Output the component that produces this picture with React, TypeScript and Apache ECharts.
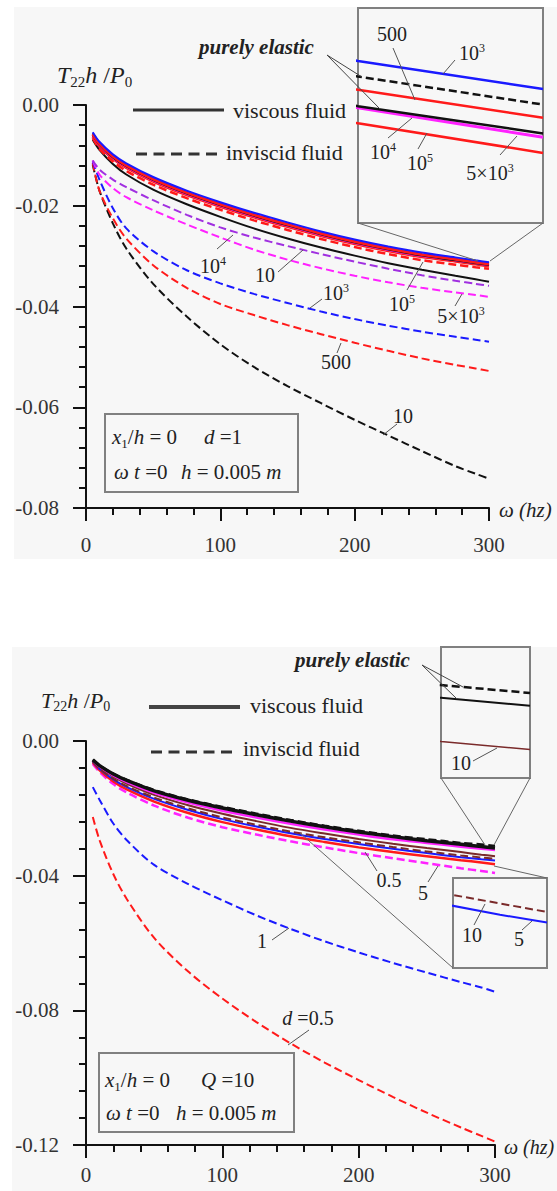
import React, { useEffect, useRef } from "react";
import * as echarts from "echarts";

const FONT = "Liberation Serif, Times New Roman, serif";

// frequency samples (hz)
const omega = [5, 10, 20, 30, 50, 75, 100, 125, 150, 175, 200, 225, 250, 275, 290, 300];

// ---------- Top panel: d = 1, curves labelled by Q ----------
const topInvQ10 = [-0.0118, -0.017, -0.0235, -0.0285, -0.0355, -0.042, -0.0475, -0.052, -0.0558, -0.0592, -0.0625, -0.0656, -0.0687, -0.0717, -0.0732, -0.0742];
const topInvQ500 = [-0.0115, -0.017, -0.0225, -0.0265, -0.0318, -0.0363, -0.0395, -0.0417, -0.0437, -0.0455, -0.0472, -0.0488, -0.0503, -0.0516, -0.0523, -0.0528];
const topInvQ1e3 = [-0.0112, -0.0148, -0.0205, -0.0245, -0.029, -0.0328, -0.0354, -0.0375, -0.0393, -0.041, -0.0425, -0.0438, -0.045, -0.046, -0.0466, -0.047];
const topInvQ5e3 = [-0.011, -0.0138, -0.0165, -0.0183, -0.0209, -0.0237, -0.0263, -0.0287, -0.0307, -0.0324, -0.0339, -0.0352, -0.0363, -0.0372, -0.0377, -0.0381];
const topInvQ1e4 = [-0.011, -0.0128, -0.0148, -0.0163, -0.0189, -0.0218, -0.0243, -0.0263, -0.028, -0.0296, -0.0311, -0.0325, -0.0338, -0.0349, -0.0355, -0.0359];
const topInvQ1e5 = [-0.0066, -0.0087, -0.0112, -0.0131, -0.0158, -0.0185, -0.0208, -0.0229, -0.0248, -0.0266, -0.0282, -0.0296, -0.0308, -0.0317, -0.0322, -0.0325];
const topInvElastic = [-0.0056, -0.0075, -0.01, -0.0118, -0.0145, -0.0172, -0.0195, -0.0216, -0.0235, -0.0253, -0.0269, -0.0283, -0.0295, -0.03045, -0.03104, -0.0314];
const topVisQ10 = [-0.0069, -0.0089, -0.0117, -0.0138, -0.0168, -0.0197, -0.0222, -0.0245, -0.0265, -0.0283, -0.0299, -0.0314, -0.0327, -0.0339, -0.0346, -0.0351];
const topVisQ500 = [-0.0058, -0.0077, -0.0102, -0.012, -0.0147, -0.0174, -0.0197, -0.0218, -0.0237, -0.0255, -0.0271, -0.0285, -0.0297, -0.03062, -0.03121, -0.03157];
const topVisQ1e3 = [-0.0054, -0.0073, -0.0098, -0.0116, -0.0143, -0.017, -0.0193, -0.0214, -0.0233, -0.0251, -0.0267, -0.0281, -0.0293, -0.03025, -0.03084, -0.0312];
const topVisElastic = [-0.006, -0.0079, -0.0104, -0.0122, -0.0149, -0.0176, -0.0199, -0.022, -0.0239, -0.0257, -0.0273, -0.0287, -0.0299, -0.03083, -0.03142, -0.03177];
const topVisQ1e5 = [-0.0061, -0.008, -0.0105, -0.0123, -0.015, -0.0177, -0.02, -0.0221, -0.024, -0.0258, -0.0274, -0.0288, -0.03, -0.03085, -0.03144, -0.03182];
const topVisQ5e3 = [-0.0063, -0.0082, -0.0107, -0.0125, -0.0152, -0.0179, -0.0202, -0.0223, -0.0242, -0.026, -0.0276, -0.029, -0.0302, -0.03105, -0.03164, -0.03202];

// ---------- Bottom panel: Q = 10, curves labelled by d ----------
const botInvD05 = [-0.0226, -0.0295, -0.0395, -0.047, -0.0585, -0.0685, -0.0765, -0.0835, -0.0898, -0.0955, -0.1007, -0.1057, -0.1104, -0.1148, -0.1173, -0.119];
const botInvD1 = [-0.0137, -0.0175, -0.0245, -0.0295, -0.0368, -0.0425, -0.0473, -0.0518, -0.0558, -0.0595, -0.0628, -0.0659, -0.0688, -0.0716, -0.0732, -0.0745];
const botInvD5 = [-0.0068, -0.0092, -0.0128, -0.0153, -0.0192, -0.0228, -0.0256, -0.0278, -0.0298, -0.0316, -0.0333, -0.0348, -0.0363, -0.0378, -0.0386, -0.0392];
const botInvD10 = [-0.0061, -0.0082, -0.0112, -0.0134, -0.0168, -0.02, -0.0227, -0.0249, -0.0269, -0.0286, -0.0301, -0.0315, -0.0328, -0.034, -0.0346, -0.035];
const botInvElastic = [-0.0055, -0.0072, -0.0096, -0.0115, -0.0145, -0.0173, -0.0195, -0.0215, -0.0234, -0.0251, -0.0266, -0.028, -0.0291, -0.0302, -0.03066, -0.0311];
const botVisD05 = [-0.0064, -0.0087, -0.012, -0.0144, -0.018, -0.0214, -0.0241, -0.0263, -0.0283, -0.03, -0.0316, -0.033, -0.0342, -0.0354, -0.0361, -0.0366];
const botVisD1 = [-0.0062, -0.0083, -0.0114, -0.0137, -0.0172, -0.0205, -0.0232, -0.0254, -0.0274, -0.0291, -0.0306, -0.032, -0.0333, -0.0345, -0.03513, -0.0355];
const botVisD5 = [-0.0058, -0.0076, -0.0102, -0.0122, -0.0154, -0.0183, -0.0207, -0.0227, -0.0246, -0.0263, -0.0278, -0.0292, -0.0303, -0.0314, -0.032, -0.0324];
const botVisD10 = [-0.0059, -0.0078, -0.0106, -0.0127, -0.016, -0.0191, -0.0216, -0.0238, -0.0258, -0.0275, -0.0291, -0.0305, -0.0318, -0.033, -0.03376, -0.0342];
const botVisElastic = [-0.0056, -0.0073, -0.0098, -0.0117, -0.0148, -0.0176, -0.0199, -0.0219, -0.0238, -0.0255, -0.027, -0.0284, -0.0296, -0.0307, -0.03136, -0.0318];

// axis ranges
const xRange = [0, 300];
const xInterval = 100;
const topYRange = [-0.08, 0];
const topYInterval = 0.02;
const botYRange = [-0.12, 0];
const botYInterval = 0.04;
const topInsetX = [290, 300];
const topInsetY = [-0.03292, -0.03016];
const botInset1X = [290, 300];
const botInset1Y = [-0.03577, -0.02857];
const botInset2X = [280, 300];
const botInset2Y = [-0.03764, -0.0334];

const RED = "#ff1a1a";
const BLUE = "#1a1aff";
const BLACK = "#111111";
const MAGENTA = "#ff22ff";
const PURPLE = "#a030e0";
const BROWN = "#7a2a2a";
const BG = "#f7f7f7";

type Part = { t: string; i?: boolean; b?: boolean; sub?: boolean; sup?: boolean };

function ln(data: number[], color: string, dashed: boolean, width: number, gi: number, smooth: number | boolean = 0.3) {
  return {
    type: "line",
    xAxisIndex: gi,
    yAxisIndex: gi,
    data: omega.map((x, i) => [x, data[i]]),
    symbol: "none",
    showSymbol: false,
    smooth,
    silent: true,
    clip: true,
    lineStyle: { color, width, type: dashed ? [8, 4] : "solid" },
    emphasis: { disabled: true },
  };
}

export default function App() {
  const ref = useRef<HTMLDivElement>(null);
  useEffect(() => {
    document.body.style.margin = "0";
    const chart = echarts.init(ref.current!, undefined, { renderer: "svg" });
    const ctx = document.createElement("canvas").getContext("2d")!;
    const measure = (t: string, size: number, it?: boolean, b?: boolean) => {
      ctx.font = `${it ? "italic " : ""}${b ? "bold " : ""}${size}px ${FONT}`;
      return ctx.measureText(t).width;
    };
    const txt = (x: number, y: number, t: string, size: number, it?: boolean, b?: boolean, color = "#222") => ({
      type: "text",
      x,
      y,
      z: 100,
      silent: true,
      style: {
        text: t,
        fontSize: size,
        fontFamily: FONT,
        fontStyle: it ? "italic" : "normal",
        fontWeight: b ? "bold" : "normal",
        fill: color,
        textAlign: "left",
        align: "left",
        textVerticalAlign: "middle",
        verticalAlign: "middle",
      },
    });
    const seq = (x: number, y: number, parts: Part[], size: number, center = false, color = "#222") => {
      const items = parts.map((p) => {
        const s = p.sub || p.sup ? Math.round(size * 0.62) : size;
        return { p, s, w: measure(p.t, s, p.i, p.b) };
      });
      const total = items.reduce((a, b) => a + b.w, 0);
      let cx = center ? x - total / 2 : x;
      const out: any[] = [];
      for (const it of items) {
        const dy = it.p.sub ? size * 0.31 : it.p.sup ? -size * 0.27 : 0;
        out.push(txt(cx, y + dy, it.p.t, it.s, it.p.i, it.p.b, color));
        cx += it.w;
      }
      return out;
    };
    const seg = (x1: number, y1: number, x2: number, y2: number, stroke = "#555", lineWidth = 1, lineDash?: number[]) => ({
      type: "line",
      z: 50,
      silent: true,
      shape: { x1, y1, x2, y2 },
      style: { stroke, lineWidth, lineDash },
    });
    const box = (x: number, y: number, w: number, h: number) => ({
      type: "rect",
      z: 40,
      silent: true,
      shape: { x, y, width: w, height: h },
      style: { fill: "none", stroke: "#808080", lineWidth: 2 },
    });
    const sup = (base: string, s: string): Part[] => [{ t: base }, { t: s, sup: true }];

    const graphics: any[] = [
      { type: "rect", z: -10, silent: true, shape: { x: 14, y: 7, width: 543, height: 552 }, style: { fill: BG } },
      { type: "rect", z: -10, silent: true, shape: { x: 12, y: 647, width: 545, height: 544 }, style: { fill: BG } },

      // ---------- top panel ----------
      ...seq(57, 75, [{ t: "T", i: true }, { t: "22", sub: true }, { t: "h", i: true }, { t: " /" }, { t: "P", i: true }, { t: "0", sub: true }], 24),
      seg(133, 110, 224, 110, "#333", 3),
      ...seq(233, 110, [{ t: "viscous fluid" }], 22),
      seg(136, 154, 217, 154, "#333", 3, [11, 6.5]),
      ...seq(226, 152, [{ t: "inviscid fluid" }], 22),
      ...seq(199, 47, [{ t: "purely elastic", i: true, b: true }], 21),
      seg(327, 55, 362, 77, "#444", 1),
      seg(327, 55, 380, 109, "#444", 1),
      seg(358, 223, 478, 261, "#666", 1),
      seg(543, 223, 490, 261, "#666", 1),
      ...seq(499, 510, [{ t: "ω (hz)", i: true }], 21),
      box(105, 414, 193, 78),
      ...seq(112, 437, [{ t: "x", i: true }, { t: "1", sub: true }, { t: "/" }, { t: "h", i: true }, { t: " = 0" }], 21),
      ...seq(204, 437, [{ t: "d", i: true }, { t: " =1" }], 21),
      ...seq(114, 472, [{ t: "ω t", i: true }, { t: " =0" }], 21),
      ...seq(181, 472, [{ t: "h", i: true }, { t: " = 0.005 " }, { t: "m", i: true }], 21),
      // main labels
      ...seq(213, 266, sup("10", "4"), 20, true),
      seg(217, 249, 233, 235),
      ...seq(265, 275, [{ t: "10" }], 20, true),
      seg(278, 272, 303, 250),
      ...seq(336, 293, sup("10", "3"), 20, true),
      seg(310, 308, 322, 299),
      ...seq(336, 362, [{ t: "500" }], 20, true),
      seg(341, 343, 337, 353),
      ...seq(402, 304, sup("10", "5"), 20, true),
      seg(407, 290, 423, 262),
      ...seq(461, 316, sup("5×10", "3"), 20, true),
      seg(455, 306, 462, 294),
      ...seq(403, 416, [{ t: "10" }], 20, true),
      seg(383, 435, 397, 424),
      // inset labels
      ...seq(392, 34, [{ t: "500" }], 20, true),
      seg(393, 48, 415, 100),
      ...seq(472, 53, sup("10", "3"), 20, true),
      seg(455, 60, 443, 74),
      ...seq(383, 152, sup("10", "4"), 20, true),
      seg(388, 138, 412, 118),
      ...seq(420, 163, sup("10", "5"), 20, true),
      seg(418, 149, 427, 133),
      ...seq(490, 173, sup("5×10", "3"), 20, true),
      seg(500, 155, 517, 136),

      // ---------- bottom panel ----------
      ...seq(41, 700, [{ t: "T", i: true }, { t: "22", sub: true }, { t: "h", i: true }, { t: " /" }, { t: "P", i: true }, { t: "0", sub: true }], 22),
      seg(149, 707, 240, 707, "#444", 4),
      ...seq(250, 705, [{ t: "viscous fluid" }], 22),
      seg(151, 752, 233, 752, "#333", 3, [11, 6.5]),
      ...seq(243, 748, [{ t: "inviscid fluid" }], 22),
      ...seq(295, 660, [{ t: "purely elastic", i: true, b: true }], 21),
      seg(422, 665, 463, 687, "#444", 1),
      seg(422, 665, 457, 699, "#444", 1),
      seg(441, 778, 485, 845, "#666", 1),
      seg(530, 778, 494, 845, "#666", 1),
      seg(300, 833, 453, 968, "#666", 1),
      seg(494, 866, 547, 878, "#666", 1),
      ...seq(504, 1147, [{ t: "ω (hz)", i: true }], 20),
      box(99, 1053, 195, 79),
      ...seq(105, 1080, [{ t: "x", i: true }, { t: "1", sub: true }, { t: "/" }, { t: "h", i: true }, { t: " = 0" }], 21),
      ...seq(201, 1080, [{ t: "Q", i: true }, { t: " =10" }], 21),
      ...seq(106, 1113, [{ t: "ω t", i: true }, { t: " =0" }], 21),
      ...seq(176, 1113, [{ t: "h", i: true }, { t: " = 0.005 " }, { t: "m", i: true }], 21),
      ...seq(389, 880, [{ t: "0.5" }], 20, true),
      seg(365, 852, 377, 871),
      ...seq(423, 893, [{ t: "5" }], 20, true),
      seg(428, 882, 438, 866),
      ...seq(262, 941, [{ t: "1" }], 20, true),
      seg(272, 940, 289, 928),
      ...seq(308, 1018, [{ t: "d", i: true }, { t: " =0.5" }], 20, true),
      seg(288, 1045, 309, 1030),
      ...seq(461, 763, [{ t: "10" }], 20, true),
      seg(473, 761, 497, 748),
      ...seq(472, 935, [{ t: "10" }], 20, true),
      seg(474, 925, 485, 904),
      ...seq(519, 939, [{ t: "5" }], 20, true),
      seg(522, 930, 532, 921),
    ];

    const axLine = { show: true, onZero: false, lineStyle: { color: BLACK, width: 2 } };
    const axTick = { show: true, inside: false, length: 13, lineStyle: { color: BLACK, width: 2 } };
    const minor = { show: true, splitNumber: 5, length: 7, lineStyle: { color: BLACK, width: 2 } };
    const lbl = { color: "#333", fontSize: 21, fontFamily: FONT };
    const mainX = (gi: number, margin: number) => ({
      type: "value", gridIndex: gi, min: xRange[0], max: xRange[1], interval: xInterval,
      axisLine: axLine, axisTick: axTick, minorTick: minor,
      splitLine: { show: false }, minorSplitLine: { show: false },
      axisLabel: { ...lbl, margin },
    });
    const mainY = (gi: number, r: number[], iv: number) => ({
      type: "value", gridIndex: gi, min: r[0], max: r[1], interval: iv,
      axisLine: axLine, axisTick: axTick, minorTick: minor,
      splitLine: { show: false }, minorSplitLine: { show: false },
      axisLabel: { ...lbl, margin: 27, formatter: (v: number) => v.toFixed(2) },
    });
    const hid = (gi: number, r: number[]) => ({ type: "value", gridIndex: gi, min: r[0], max: r[1], show: false, splitLine: { show: false } });
    const insetGrid = { show: true, backgroundColor: BG, borderColor: "#808080", borderWidth: 2, outerBoundsMode: "none", containLabel: false };

    chart.setOption({
      animation: false,
      backgroundColor: "#ffffff",
      grid: [
        { left: 86, top: 105, width: 403, height: 403, outerBoundsMode: "none", containLabel: false },
        { left: 358, top: 8, width: 185, height: 215, ...insetGrid },
        { left: 86, top: 741, width: 409, height: 404, outerBoundsMode: "none", containLabel: false },
        { left: 441, top: 647, width: 89, height: 131, ...insetGrid },
        { left: 453, top: 878, width: 94, height: 90, ...insetGrid },
      ],
      xAxis: [mainX(0, 26), hid(1, topInsetX), mainX(2, 19), hid(3, botInset1X), hid(4, botInset2X)],
      yAxis: [mainY(0, topYRange, topYInterval), hid(1, topInsetY), mainY(2, botYRange, botYInterval), hid(3, botInset1Y), hid(4, botInset2Y)],
      series: [
        // top main
        ln(topInvQ10, BLACK, true, 2, 0),
        ln(topInvQ500, RED, true, 2, 0),
        ln(topInvQ1e3, BLUE, true, 2, 0),
        ln(topInvQ5e3, MAGENTA, true, 2, 0),
        ln(topInvQ1e4, PURPLE, true, 2, 0),
        ln(topVisQ10, BLACK, false, 2, 0),
        ln(topInvQ1e5, RED, true, 2.5, 0),
        ln(topInvElastic, BLACK, true, 2, 0),
        ln(topVisQ5e3, RED, false, 2.5, 0),
        ln(topVisQ1e5, MAGENTA, false, 2, 0),
        ln(topVisElastic, BLACK, false, 2, 0),
        ln(topVisQ500, RED, false, 3, 0),
        ln(topVisQ1e3, BLUE, false, 2, 0),
        // top inset
        ln(topVisQ1e3, BLUE, false, 2.5, 1, false),
        ln(topInvElastic, BLACK, true, 2.5, 1, false),
        ln(topVisQ500, RED, false, 2.5, 1, false),
        ln(topVisQ1e5, MAGENTA, false, 3, 1, false),
        ln(topVisElastic, BLACK, false, 2.5, 1, false),
        ln(topVisQ5e3, RED, false, 2.5, 1, false),
        // bottom main
        ln(botInvD05, RED, true, 2, 2),
        ln(botInvD1, BLUE, true, 2, 2),
        ln(botInvD5, MAGENTA, true, 2.5, 2),
        ln(botVisD05, RED, false, 2.5, 2),
        ln(botVisD1, BLUE, false, 2, 2),
        ln(botInvD10, BROWN, true, 2, 2),
        ln(botVisD10, BROWN, false, 2, 2),
        ln(botVisD5, MAGENTA, false, 2.5, 2),
        ln(botInvElastic, BLACK, true, 2, 2),
        ln(botVisElastic, BLACK, false, 3.5, 2),
        // bottom inset 1
        ln(botInvElastic, BLACK, true, 2.5, 3, false),
        ln(botVisElastic, BLACK, false, 2, 3, false),
        ln(botVisD10, BROWN, false, 1.5, 3, false),
        // bottom inset 2
        ln(botInvD10, BROWN, true, 2, 4, false),
        ln(botVisD1, BLUE, false, 2, 4, false),
      ],
      graphic: { elements: graphics },
    });
    return () => chart.dispose();
  }, []);
  return <div ref={ref} style={{ width: 557, height: 1191 }} />;
}
